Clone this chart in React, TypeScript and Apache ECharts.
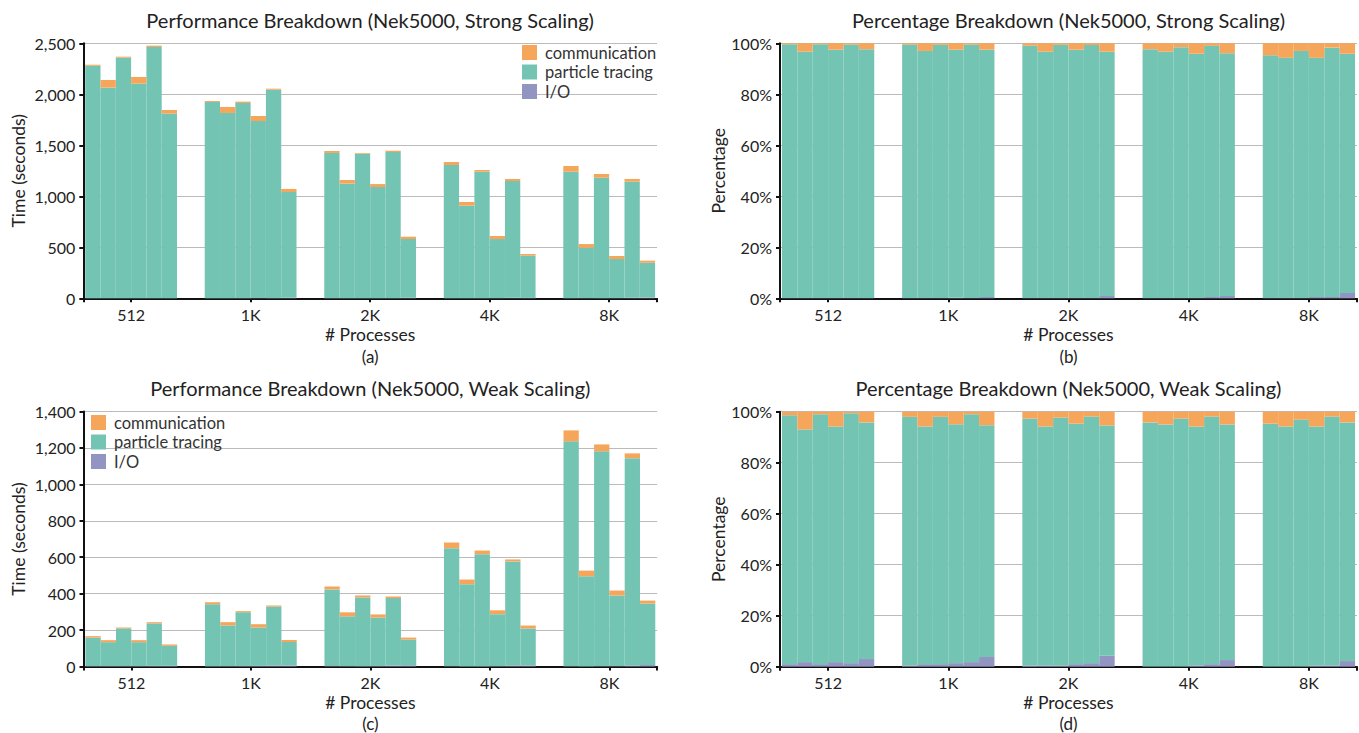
import React, { useEffect, useRef } from "react";
import * as echarts from "echarts";

// ---------- data ----------
const categories = ["512", "1K", "2K", "4K", "8K"];
const seriesNames = ["communication", "particle tracing", "I/O"];

// (a) strong scaling, seconds — 6 runs per process count
const strongIO = [
  [1, 1, 1, 1, 1, 1],
  [1, 1, 1, 2, 1, 5],
  [1, 1, 1, 1, 1, 6],
  [1, 1, 1, 1, 6, 4],
  [1, 1, 1, 2, 6, 8],
];
const strongTracing = [
  [2279, 2064, 2358, 2103, 2463, 1809],
  [1924, 1816, 1914, 1736, 2044, 1037],
  [1424, 1123, 1417, 1090, 1433, 575],
  [1306, 907, 1240, 580, 1144, 414],
  [1240, 495, 1181, 383, 1137, 341],
];
const strongComm = [
  [10, 75, 10, 66, 13, 36],
  [9, 59, 13, 49, 10, 30],
  [19, 36, 7, 29, 13, 23],
  [29, 36, 17, 30, 20, 16],
  [56, 36, 37, 30, 27, 20],
];

// (b) strong scaling, percentage
const strongIOPct = [
  [0.1, 0.1, 0.1, 0.1, 0.1, 0.1],
  [0.1, 0.1, 0.1, 0.2, 0.1, 0.5],
  [0.1, 0.1, 0.1, 0.1, 0.1, 0.9],
  [0.1, 0.1, 0.1, 0.1, 0.5, 0.9],
  [0.1, 0.1, 0.1, 0.5, 0.5, 2.1],
];
const strongTracingPct = [
  [99.5, 96.6, 99.5, 97.4, 99.4, 97.6],
  [99.4, 96.9, 99.3, 97.3, 99.4, 97.0],
  [98.9, 96.6, 99.3, 97.4, 99.2, 95.8],
  [97.6, 96.6, 98.4, 95.8, 98.5, 95.2],
  [95.2, 94.2, 96.9, 93.8, 97.8, 93.8],
];
const strongCommPct = [
  [0.4, 3.3, 0.4, 2.5, 0.5, 2.3],
  [0.5, 3.0, 0.6, 2.5, 0.5, 2.5],
  [1.0, 3.3, 0.6, 2.5, 0.7, 3.3],
  [2.3, 3.3, 1.5, 4.1, 1.0, 3.9],
  [4.7, 5.7, 3.0, 5.7, 1.7, 4.1],
];

// (c) weak scaling, seconds
const weakIO = [
  [1.7, 2.6, 2.1, 2.6, 3.4, 3.6],
  [1.8, 2.4, 3.0, 3.2, 6.0, 5.5],
  [2.2, 1.5, 2.0, 2.9, 5.4, 6.8],
  [0.7, 0.5, 0.6, 1.5, 5.9, 5.9],
  [1.3, 0.5, 1.2, 2.1, 5.9, 8.0],
];
const weakTracing = [
  [157, 131, 207, 131, 233, 110],
  [340, 223, 295, 211, 323, 129],
  [421, 274, 377, 266, 370, 141],
  [649, 451, 616, 286, 571, 203],
  [1235, 495, 1180, 388, 1138, 338],
];
const weakComm = [
  [8, 11, 5, 11, 7, 7.5],
  [11, 18, 6, 18, 6, 11],
  [16, 22, 11, 17, 9, 11],
  [31, 26, 20, 21, 11, 16],
  [60, 31, 38, 27, 26, 16],
];

// (d) weak scaling, percentage
const weakIOPct = [
  [1.0, 1.8, 1.0, 1.8, 1.4, 3.0],
  [0.5, 1.0, 1.0, 1.4, 1.8, 3.8],
  [0.5, 0.5, 0.5, 1.0, 1.4, 4.3],
  [0.1, 0.1, 0.1, 0.5, 1.0, 2.6],
  [0.1, 0.1, 0.1, 0.5, 0.5, 2.2],
];
const weakTracingPct = [
  [97.6, 91.2, 98.0, 92.4, 98.0, 92.8],
  [97.5, 93.2, 97.0, 93.7, 97.2, 90.9],
  [96.8, 93.7, 97.2, 94.3, 96.7, 90.3],
  [95.7, 94.9, 97.2, 93.7, 97.1, 92.4],
  [95.2, 94.1, 96.8, 93.7, 97.6, 93.6],
];
const weakCommPct = [
  [1.4, 7.0, 1.0, 5.8, 0.6, 4.2],
  [2.0, 5.8, 2.0, 4.9, 1.0, 5.3],
  [2.7, 5.8, 2.3, 4.7, 1.9, 5.4],
  [4.2, 5.0, 2.7, 5.8, 1.9, 5.0],
  [4.7, 5.8, 3.1, 5.8, 1.9, 4.2],
];

// ---------- style ----------
const FONT = "Lato";
const COLORS: Record<string, string> = {
  communication: "#F5A65B",
  "particle tracing": "#74C4B4",
  "I/O": "#9294C1",
};
const BAR_W = 0.128; // bar width in category units
const TEXT = "#222";

type Panel = {
  title: string;
  caption: string;
  yName: string;
  yMax: number;
  yInterval: number;
  pct: boolean;
  io: number[][];
  tracing: number[][];
  comm: number[][];
  grid: { left: number; top: number; width: number; height: number };
  captionY: number;
  legend: boolean;
  legendPos?: { left: number; top: number };
};

const panels: Panel[] = [
  {
    title: "Performance Breakdown (Nek5000, Strong Scaling)",
    caption: "(a)",
    yName: "Time (seconds)",
    yMax: 2500,
    yInterval: 500,
    pct: false,
    io: strongIO,
    tracing: strongTracing,
    comm: strongComm,
    grid: { left: 83.3, top: 43.3, width: 573.7, height: 255 },
    captionY: 356,
    legend: true,
    legendPos: { left: 522, top: 44 },
  },
  {
    title: "Percentage Breakdown (Nek5000, Strong Scaling)",
    caption: "(b)",
    yName: "Percentage",
    yMax: 100,
    yInterval: 20,
    pct: true,
    io: strongIOPct,
    tracing: strongTracingPct,
    comm: strongCommPct,
    grid: { left: 780, top: 43.3, width: 577, height: 255 },
    captionY: 356,
    legend: false,
  },
  {
    title: "Performance Breakdown (Nek5000, Weak Scaling)",
    caption: "(c)",
    yName: "Time (seconds)",
    yMax: 1400,
    yInterval: 200,
    pct: false,
    io: weakIO,
    tracing: weakTracing,
    comm: weakComm,
    grid: { left: 83.5, top: 411.5, width: 573.7, height: 255 },
    captionY: 723,
    legend: true,
    legendPos: { left: 91, top: 414 },
  },
  {
    title: "Percentage Breakdown (Nek5000, Weak Scaling)",
    caption: "(d)",
    yName: "Percentage",
    yMax: 100,
    yInterval: 20,
    pct: true,
    io: weakIOPct,
    tracing: weakTracingPct,
    comm: weakCommPct,
    grid: { left: 780, top: 411.7, width: 577, height: 255 },
    captionY: 723,
    legend: false,
  },
];

function buildOption() {
  const grids: any[] = [];
  const xAxes: any[] = [];
  const yAxes: any[] = [];
  const series: any[] = [];
  const legends: any[] = [];
  const graphics: any[] = [];

  panels.forEach((p, pi) => {
    grids.push({ ...p.grid, containLabel: false });
    xAxes.push({
      type: "value",
      gridIndex: pi,
      min: -0.4,
      max: 4.4,
      splitLine: { show: false },
      axisLine: { show: true, onZero: false, lineStyle: { color: "#111", width: 2 } },
      axisTick: {
        show: true,
        customValues: [-0.4, 0, 1, 2, 3, 4, 4.4],
        length: 4,
        lineStyle: { color: "#111", width: 2 },
      },
      axisLabel: {
        customValues: [0, 1, 2, 3, 4],
        formatter: (v: number) => categories[Math.round(v)] ?? "",
        fontFamily: FONT,
        fontSize: 16,
        color: TEXT,
        margin: 8,
      },
      name: "# Processes",
      nameLocation: "middle",
      nameGap: 27,
      nameTextStyle: { fontFamily: FONT, fontSize: 17.5, color: TEXT },
    });
    yAxes.push({
      type: "value",
      gridIndex: pi,
      min: 0,
      max: p.yMax,
      interval: p.yInterval,
      axisLine: { show: true, onZero: false, lineStyle: { color: "#111", width: 2 } },
      axisTick: { show: true, length: 4, lineStyle: { color: "#111", width: 2 } },
      splitLine: { show: true, lineStyle: { color: "#BBBBBB", width: 1 } },
      axisLabel: {
        formatter: (v: number) => (p.pct ? `${v}%` : v.toLocaleString("en-US")),
        fontFamily: FONT,
        fontSize: 16,
        color: TEXT,
        margin: 8,
      },
      name: p.yName,
      nameLocation: "middle",
      nameGap: p.pct ? 53 : 56,
      nameTextStyle: { fontFamily: FONT, fontSize: 17.5, color: TEXT },
    });

    // stacked layers: I/O at bottom, then particle tracing, then communication
    const layers: [string, number[][]][] = [
      ["I/O", p.io],
      ["particle tracing", p.tracing],
      ["communication", p.comm],
    ];
    const base: number[][] = p.io.map((row) => row.map(() => 0));
    layers.forEach(([name, vals]) => {
      const data: number[][] = [];
      vals.forEach((row, g) => {
        row.forEach((v, i) => {
          const x = g + (i - 2.5) * BAR_W;
          const y0 = base[g][i];
          const y1 = y0 + v;
          base[g][i] = y1;
          data.push([x, y0, y1]);
        });
      });
      const color = COLORS[name];
      series.push({
        type: "custom",
        name,
        xAxisIndex: pi,
        yAxisIndex: pi,
        itemStyle: { color },
        encode: { x: 0, y: [1, 2] },
        data,
        renderItem: (params: any, api: any) => {
          const x = api.value(0);
          const y0 = api.value(1);
          const y1 = api.value(2);
          const tl = api.coord([x - BAR_W / 2, y1]);
          const br = api.coord([x + BAR_W / 2, y0]);
          return {
            type: "rect",
            shape: { x: tl[0], y: tl[1], width: br[0] - tl[0], height: br[1] - tl[1] },
            style: { fill: color },
          };
        },
      });
    });

    if (p.legend && p.legendPos) {
      legends.push({
        show: true,
        orient: "vertical",
        left: p.legendPos.left,
        top: p.legendPos.top,
        padding: 0,
        itemWidth: 15,
        itemHeight: 15,
        itemGap: 2.5,
        icon: "rect",
        selectedMode: false,
        data: seriesNames,
        textStyle: { fontFamily: FONT, fontSize: 16.5, color: "#333", lineHeight: 15, padding: [0, 0, 0, 3] },
      });
    }

    const cx = p.grid.left + p.grid.width / 2;
    graphics.push({
      type: "text",
      x: cx,
      y: p.grid.top - 23.5,
      style: {
        text: p.title,
        fontFamily: FONT,
        fontSize: 20,
        fill: TEXT,
        textAlign: "center",
        textVerticalAlign: "middle",
      },
    });
    graphics.push({
      type: "text",
      x: cx,
      y: p.captionY,
      style: {
        text: p.caption,
        fontFamily: FONT,
        fontSize: 17,
        fill: TEXT,
        textAlign: "center",
        textVerticalAlign: "middle",
      },
    });
  });

  return {
    animation: false,
    backgroundColor: "#fff",
    grid: grids,
    xAxis: xAxes,
    yAxis: yAxes,
    legend: legends,
    series,
    graphic: graphics,
  };
}

export default function App() {
  const ref = useRef<HTMLDivElement>(null);
  useEffect(() => {
    if (!ref.current) return;
    const chart = echarts.init(ref.current, undefined, { renderer: "svg" });
    chart.setOption(buildOption() as any);
    return () => chart.dispose();
  }, []);
  return (
    <div
      ref={ref}
      style={{ position: "fixed", left: 0, top: 0, width: 1359, height: 733, background: "#fff" }}
    />
  );
}
